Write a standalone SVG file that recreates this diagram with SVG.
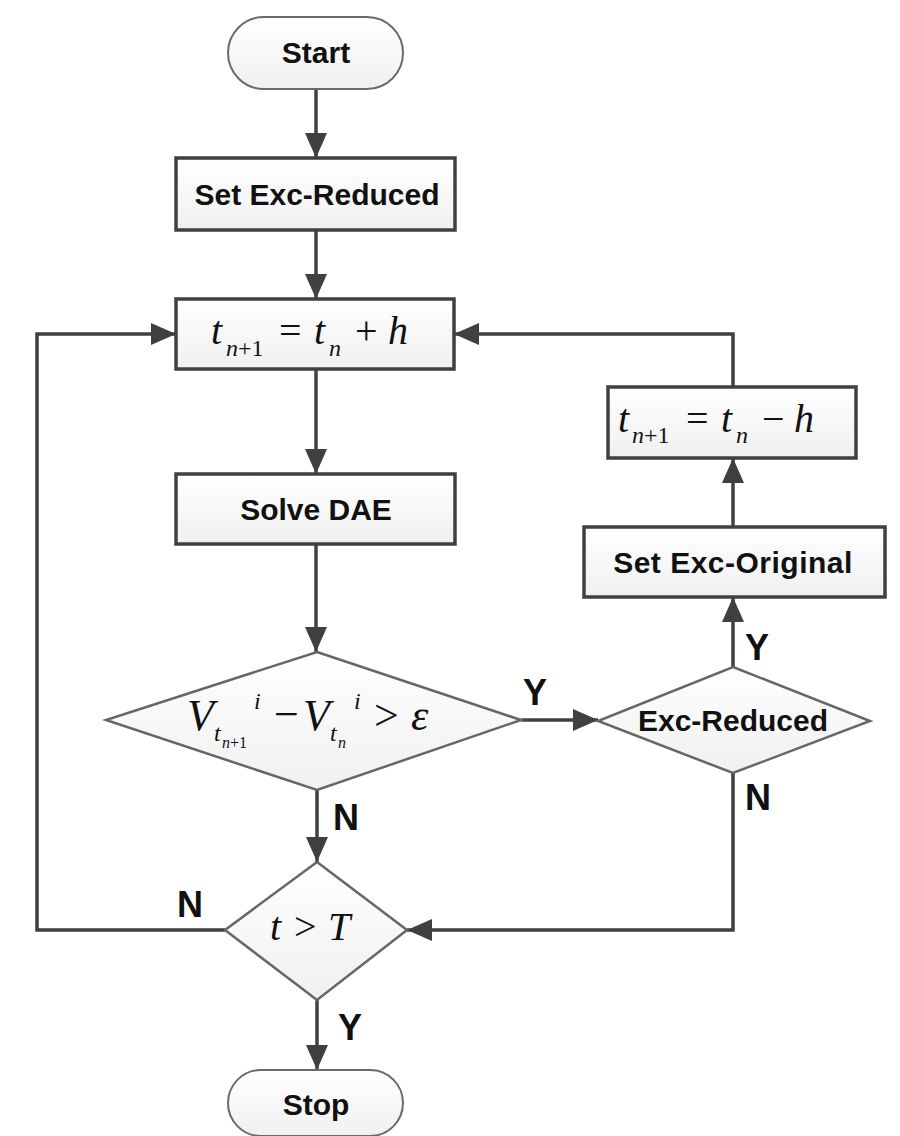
<svg xmlns="http://www.w3.org/2000/svg" width="900" height="1136" viewBox="0 0 900 1136">
<defs>
<linearGradient id="fill" x1="0" y1="0" x2="0" y2="1">
<stop offset="0" stop-color="#ffffff"/>
<stop offset="1" stop-color="#f0f0f0"/>
</linearGradient>
<marker id="arr" markerUnits="userSpaceOnUse" markerWidth="26" markerHeight="24" refX="25" refY="12" orient="auto">
<path d="M0,1 L25,12 L0,23 z" fill="#404040"/>
</marker>
<style>
.box{fill:url(#fill);stroke:#404040;stroke-width:3.5}
.term{fill:url(#fill);stroke:#6a6a6a;stroke-width:2}
.dia{fill:url(#fill);stroke:#666;stroke-width:2.5}
.lbl{font-family:"Liberation Sans",Arial,sans-serif;font-weight:bold;font-size:30px;fill:#111;text-anchor:middle}
.yn{font-family:"Liberation Sans",Arial,sans-serif;font-weight:bold;font-size:36px;fill:#111}
.m{font-family:"Liberation Serif","Times New Roman",serif;fill:#111}
.it{font-style:italic}
.conn{fill:none;stroke:#404040;stroke-width:3.5}
</style>
</defs>
<g id="connectors">
<path class="conn" d="M316,89 V158" marker-end="url(#arr)"/>
<path class="conn" d="M316,230 V299" marker-end="url(#arr)"/>
<path class="conn" d="M316,369 V474" marker-end="url(#arr)"/>
<path class="conn" d="M316,544 V652" marker-end="url(#arr)"/>
<path class="conn" d="M317,790 V862" marker-end="url(#arr)"/>
<path class="conn" d="M521,720 H598" marker-end="url(#arr)"/>
<path class="conn" d="M733,667 V597" marker-end="url(#arr)"/>
<path class="conn" d="M733,527 V458" marker-end="url(#arr)"/>
<path class="conn" d="M733,387 V334 H454" marker-end="url(#arr)"/>
<path class="conn" d="M733,773 V930 H407" marker-end="url(#arr)"/>
<path class="conn" d="M225,930 H37 V334 H176" marker-end="url(#arr)"/>
<path class="conn" d="M317,1000 V1070" marker-end="url(#arr)"/>
<text class="yn" x="523" y="705">Y</text>
<text class="yn" x="333" y="830">N</text>
<text class="yn" x="745" y="660">Y</text>
<text class="yn" x="745" y="810">N</text>
<text class="yn" x="177" y="917">N</text>
<text class="yn" x="338" y="1040">Y</text>
</g>
<g id="start">
<rect class="term" x="228" y="17" width="175" height="72" rx="36"/>
<text class="lbl" x="316" y="63">Start</text>
</g>
<g id="set-exc-reduced">
<rect class="box" x="176" y="158" width="279" height="72"/>
<text class="lbl" x="317" y="205">Set Exc-Reduced</text>
</g>
<g id="step-forward">
<rect class="box" x="176" y="299" width="278" height="70"/>
<text class="m" font-size="40"><tspan class="it" x="211" y="344">t</tspan><tspan font-size="24" x="226" y="356"><tspan class="it">n</tspan>+1</tspan><tspan x="279" y="344">=</tspan><tspan class="it" x="314" y="344">t</tspan><tspan class="it" font-size="24" x="329" y="356">n</tspan><tspan x="355" y="344">+</tspan><tspan class="it" x="388" y="344">h</tspan></text>
</g>
<g id="solve-dae">
<rect class="box" x="176" y="474" width="279" height="70"/>
<text class="lbl" x="316" y="520">Solve DAE</text>
</g>
<g id="check-voltage">
<polygon class="dia" points="317,652 521,720 317,790 106,720"/>
<text class="m" font-size="44"><tspan class="it" x="187" y="730">V</tspan><tspan class="it" font-size="24" x="214" y="741">t</tspan><tspan font-size="16" x="222" y="748"><tspan class="it">n</tspan>+1</tspan><tspan class="it" font-size="24" x="254" y="709">i</tspan><tspan x="274" y="729">−</tspan><tspan class="it" x="303" y="730">V</tspan><tspan class="it" font-size="24" x="330" y="741">t</tspan><tspan class="it" font-size="16" x="338" y="748">n</tspan><tspan class="it" font-size="24" x="354" y="709">i</tspan><tspan x="374" y="730">&gt;</tspan><tspan class="it" x="411" y="730">ε</tspan></text>
</g>
<g id="exc-reduced">
<polygon class="dia" points="733,667 870,721 733,773 598,721"/>
<text class="lbl" x="733" y="731">Exc-Reduced</text>
</g>
<g id="set-exc-original">
<rect class="box" x="584" y="527" width="301" height="70"/>
<text class="lbl" x="733" y="573" letter-spacing="0.5">Set Exc-Original</text>
</g>
<g id="step-back">
<rect class="box" x="608" y="387" width="248" height="71"/>
<text class="m" font-size="40"><tspan class="it" x="618" y="432">t</tspan><tspan font-size="24" x="632" y="443"><tspan class="it">n</tspan>+1</tspan><tspan x="686" y="432">=</tspan><tspan class="it" x="721" y="432">t</tspan><tspan class="it" font-size="24" x="736" y="443">n</tspan><tspan x="762" y="432">−</tspan><tspan class="it" x="794" y="432">h</tspan></text>
</g>
<g id="check-time">
<polygon class="dia" points="317,862 407,930 317,1000 225,930"/>
<text class="m" font-size="40"><tspan class="it" x="270" y="940">t</tspan><tspan x="294" y="940">&gt;</tspan><tspan class="it" x="328" y="940">T</tspan></text>
</g>
<g id="stop">
<rect class="term" x="228" y="1070" width="175" height="66" rx="33"/>
<text class="lbl" x="316" y="1115">Stop</text>
</g>
</svg>
